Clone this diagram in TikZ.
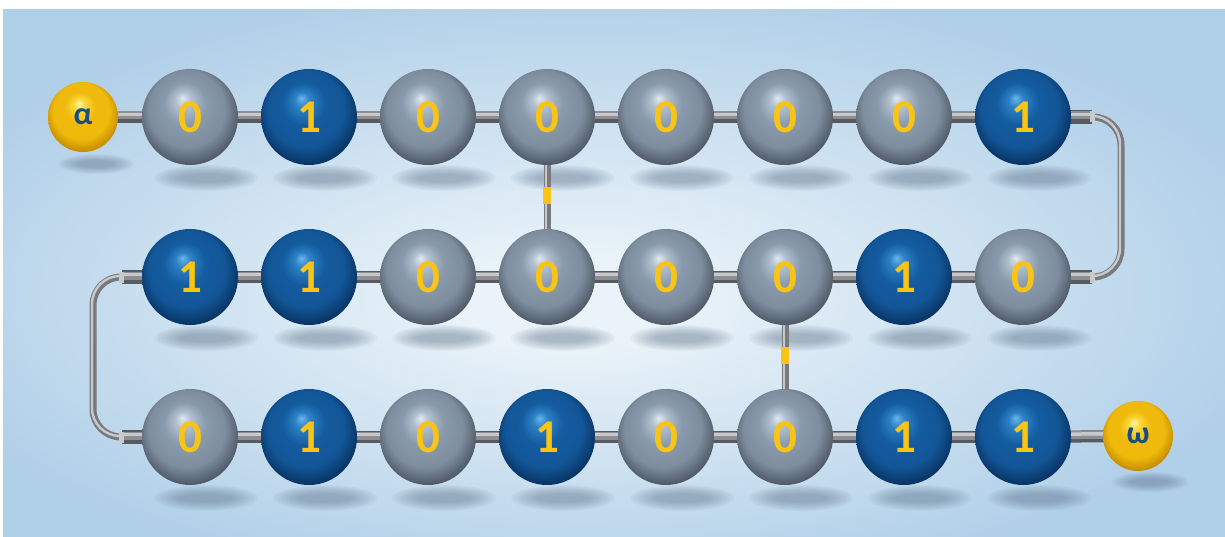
\documentclass[tikz,border=0pt]{standalone}
\usepackage{fontspec}
\setmainfont{Carlito}

% colours
\definecolor{bglight}{RGB}{234,243,249}
\definecolor{bgblue}{RGB}{176,207,232}
\definecolor{greyhi}{RGB}{225,233,241}
\definecolor{greymid}{RGB}{178,192,207}
\definecolor{greybody}{RGB}{137,154,172}
\definecolor{greydeep}{RGB}{80,90,104}
\definecolor{greyrim}{RGB}{36,40,48}
\definecolor{greyglow}{RGB}{168,183,199}
\definecolor{bluehi}{RGB}{105,182,235}
\definecolor{bluemid}{RGB}{45,128,196}
\definecolor{bluebody}{RGB}{20,92,160}
\definecolor{bluedeep}{RGB}{8,52,100}
\definecolor{bluerim}{RGB}{3,22,45}
\definecolor{blueglow}{RGB}{40,112,180}
\definecolor{goldhi}{RGB}{255,246,175}
\definecolor{goldmid}{RGB}{252,216,60}
\definecolor{goldbody}{RGB}{240,186,12}
\definecolor{golddeep}{RGB}{196,140,0}
\definecolor{goldrim}{RGB}{150,100,0}
\definecolor{goldglow}{RGB}{225,170,20}
\definecolor{digit}{RGB}{250,196,20}
\definecolor{greek}{RGB}{22,78,135}
\definecolor{roddark}{RGB}{88,90,95}
\definecolor{rodmid}{RGB}{140,142,146}
\definecolor{rodlight}{RGB}{200,201,204}
\definecolor{wirecol}{RGB}{120,122,126}
\definecolor{shadowc}{RGB}{85,105,128}

% radius 25bp is the rim of the shaded path
\pgfdeclareradialshading{backdrop}{\pgfpoint{-2bp}{-3bp}}{color(0bp)=(bglight); color(4bp)=(bglight); color(29bp)=(bgblue); color(50bp)=(bgblue)}
\pgfdeclareradialshading{greyball}{\pgfpoint{-4bp}{10bp}}{color(0bp)=(greyhi); color(4bp)=(greymid); color(11bp)=(greybody); color(20bp)=(greybody!80!greydeep); color(27bp)=(greydeep); color(31bp)=(greyrim); color(35bp)=(greyglow)}
\pgfdeclareradialshading{blueball}{\pgfpoint{-4bp}{10bp}}{color(0bp)=(bluehi); color(4bp)=(bluemid); color(11bp)=(bluebody); color(20bp)=(bluebody!85!bluedeep); color(27bp)=(bluedeep); color(31bp)=(bluerim); color(35bp)=(blueglow)}
\pgfdeclareradialshading{goldball}{\pgfpoint{-3bp}{10bp}}{color(0bp)=(goldhi); color(4bp)=(goldmid); color(11bp)=(goldbody); color(20bp)=(goldbody); color(27bp)=(golddeep); color(31bp)=(goldrim); color(35bp)=(goldglow)}

\pgfdeclarelayer{backdrop}
\pgfdeclarelayer{rods}
\pgfsetlayers{backdrop,rods,main}

\tikzset{every picture/.style={line width=0.75pt}}

\begin{document}
\begin{tikzpicture}[x=1pt,y=1pt,yscale=-1,
  ball/.style={circle,inner sep=0pt,minimum size=96,shade,font=\bfseries\fontsize{47}{47}\selectfont,text=digit},
  bit0/.style={ball,shading=greyball},
  bit1/.style={ball,shading=blueball},
  endball/.style={circle,inner sep=0pt,minimum size=70,shade,shading=goldball,font=\bfseries\fontsize{32}{32}\selectfont,text=greek},
  shadow/.style={fill=shadowc,fill opacity=0.055},
  rod/.style={line width=12,draw=roddark},
  rodmid/.style={line width=8,draw=rodmid,transform canvas={yshift=1.5pt}},
  rodhi/.style={line width=3.5,draw=rodlight,transform canvas={yshift=2.5pt}},
  stub/.style={line width=14,draw=roddark},
  collar/.style={line width=11,draw=rodlight},
  wire/.style={line width=7,draw=wirecol},
  wirehi/.style={line width=2.4,draw=rodlight},
  band/.style={rectangle,inner sep=0pt,minimum width=8,minimum height=17,fill=digit}]

%Backdrop
\useasboundingbox (0,0) rectangle (1225,537);
\begin{pgfonlayer}{backdrop}
\fill[white] (0,0) rectangle (1225,537);
\shade[shading=backdrop] (3,10) rectangle (1225,537);
\end{pgfonlayer}

%Spheres of the three rows, with their shadows
\foreach \row/\ypos/\bits in {top/117/{0,1,0,0,0,0,0,1},mid/277/{1,1,0,0,0,0,1,0},bot/437/{0,1,0,1,0,0,1,1}}{
  \foreach \b [count=\i from 0] in \bits {
    \node[bit\b] (\row-\i) at ({190+119*\i},\ypos) {\b};
    \begin{pgfonlayer}{backdrop}
      \foreach \k in {0,...,8}
        \fill[shadow] ({206+119*\i},{\ypos+61}) ellipse ({52-3.2*\k} and {13-1.1*\k});
    \end{pgfonlayer}
  }
}

%End spheres
\node[endball] (alpha) at (83,117) {α};
\node[endball] (omega) at (1138,436) {ω};
\begin{pgfonlayer}{backdrop}
\foreach \k in {0,...,8} {
  \fill[shadow] (96,164) ellipse ({38-2.4*\k} and {10-0.85*\k});
  \fill[shadow] (1150,482) ellipse ({38-2.4*\k} and {10-0.85*\k});
}
\end{pgfonlayer}

%Loop ends
\coordinate (rtop) at (1092,117);
\coordinate (rmid) at (1092,277);
\coordinate (lmid) at (122,277);
\coordinate (lbot) at (122,437);

\begin{pgfonlayer}{rods}
%Straight rods
\foreach \a/\z in {alpha/top-0,top-0/top-1,top-1/top-2,top-2/top-3,top-3/top-4,top-4/top-5,top-5/top-6,top-6/top-7,
                   mid-0/mid-1,mid-1/mid-2,mid-2/mid-3,mid-3/mid-4,mid-4/mid-5,mid-5/mid-6,mid-6/mid-7,
                   bot-0/bot-1,bot-1/bot-2,bot-2/bot-3,bot-3/bot-4,bot-4/bot-5,bot-5/bot-6,bot-6/bot-7,bot-7/omega} {
  \draw[rod] (\a.center) -- (\z.center);
  \draw[rodmid] (\a.center) -- (\z.center);
  \draw[rodhi] (\a.center) -- (\z.center);
}

%Bent wires
\draw[wire,rounded corners=28] (rtop) -- (1121,117) -- (1121,277) -- (rmid);
\draw[wirehi,rounded corners=28,transform canvas={xshift=-1pt,yshift=1pt}] (rtop) -- (1121,117) -- (1121,277) -- (rmid);
\draw[wire,rounded corners=28] (lmid) -- (93,277) -- (93,437) -- (lbot);
\draw[wirehi,rounded corners=28,transform canvas={xshift=-1pt,yshift=1pt}] (lmid) -- (93,277) -- (93,437) -- (lbot);

%Stubs
\foreach \s/\e in {top-7/rtop,mid-7/rmid,mid-0/lmid,bot-0/lbot} {
  \draw[stub] (\s.center) -- (\e);
  \draw[rodmid] (\s.center) -- (\e);
  \draw[rodhi] (\s.center) -- (\e);
}
\draw[collar] (1090,117) -- (1095,117);
\draw[collar] (1090,277) -- (1095,277);
\draw[collar] (124,277) -- (119,277);
\draw[collar] (124,437) -- (119,437);

%Cross links
\draw[wire] (top-3.center) -- (mid-3.center);
\draw[wirehi,transform canvas={xshift=-1pt}] (top-3.center) -- (mid-3.center);
\path (top-3) -- node[band,pos=0.47] (link-a) {} (mid-3);
\draw[wire] (mid-5.center) -- (bot-5.center);
\draw[wirehi,transform canvas={xshift=-1pt}] (mid-5.center) -- (bot-5.center);
\path (mid-5) -- node[band,pos=0.47] (link-b) {} (bot-5);
\end{pgfonlayer}

\end{tikzpicture}
\end{document}
